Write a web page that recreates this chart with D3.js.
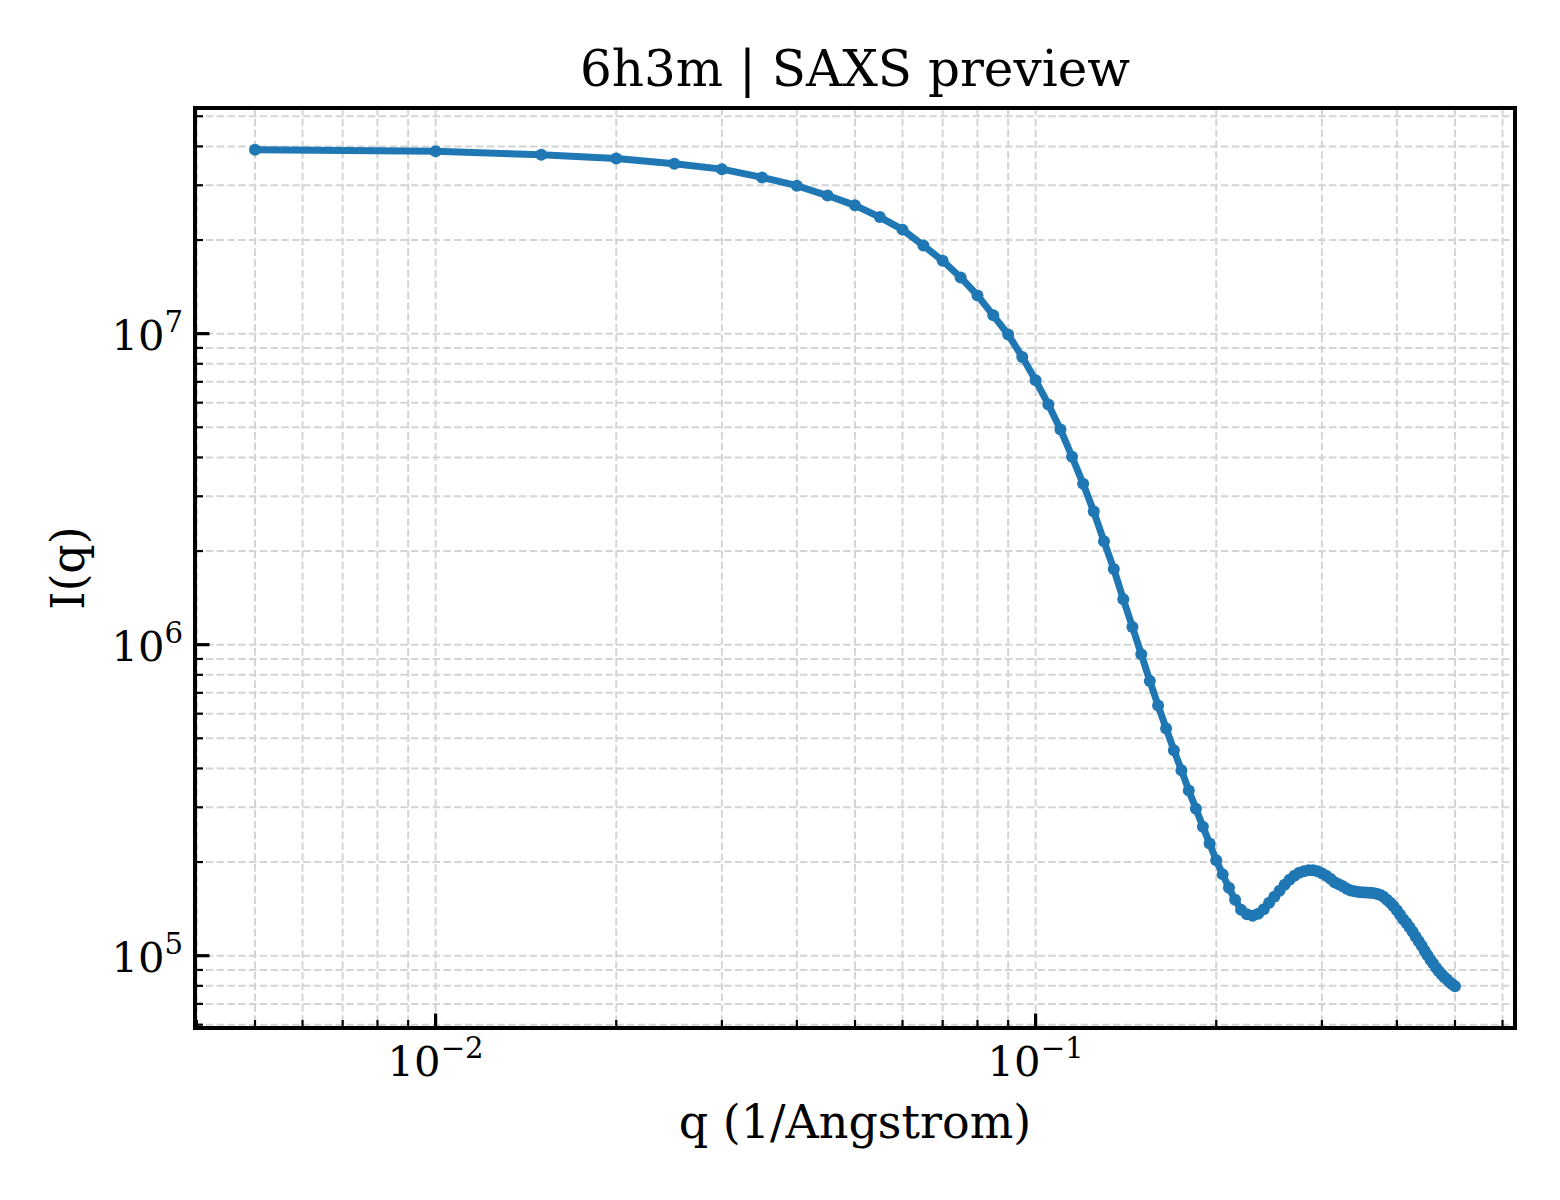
<!DOCTYPE html>
<html>
<head>
<meta charset="utf-8">
<script src="https://cdn.jsdelivr.net/npm/d3@7"></script>
<style>
  body { margin: 0; background: #fff; }
  svg text { font-family: "DejaVu Serif", serif; fill: #000; }
</style>
</head>
<body>
<svg id="chart"></svg>
<script>
// q values (1/Angstrom), one point every 0.005
var qValues = [
  0.005, 0.010, 0.015, 0.020, 0.025, 0.030, 0.035, 0.040, 0.045, 0.050,
  0.055, 0.060, 0.065, 0.070, 0.075, 0.080, 0.085, 0.090, 0.095, 0.100,
  0.105, 0.110, 0.115, 0.120, 0.125, 0.130, 0.135, 0.140, 0.145, 0.150,
  0.155, 0.160, 0.165, 0.170, 0.175, 0.180, 0.185, 0.190, 0.195, 0.200,
  0.205, 0.210, 0.215, 0.220, 0.225, 0.230, 0.235, 0.240, 0.245, 0.250,
  0.255, 0.260, 0.265, 0.270, 0.275, 0.280, 0.285, 0.290, 0.295, 0.300,
  0.305, 0.310, 0.315, 0.320, 0.325, 0.330, 0.335, 0.340, 0.345, 0.350,
  0.355, 0.360, 0.365, 0.370, 0.375, 0.380, 0.385, 0.390, 0.395, 0.400,
  0.405, 0.410, 0.415, 0.420, 0.425, 0.430, 0.435, 0.440, 0.445, 0.450,
  0.455, 0.460, 0.465, 0.470, 0.475, 0.480, 0.485, 0.490, 0.495, 0.500
]

// intensity
var intensity = [
  3.90e7, 3.86e7, 3.76e7, 3.66e7, 3.52e7, 3.38e7, 3.18e7, 2.99e7, 2.78e7, 2.585e7,
  2.37e7, 2.16e7, 1.92e7, 1.715e7, 1.516e7, 1.327e7, 1.145e7, 9.93e6, 8.42e6, 7.08e6,
  5.92e6, 4.92e6, 4.02e6, 3.29e6, 2.68e6, 2.15e6, 1.75e6, 1.40e6, 1.14e6, 9.32e5,
  7.64e5, 6.38e5, 5.38e5, 4.58e5, 3.95e5, 3.40e5, 2.97e5, 2.60e5, 2.295e5, 2.026e5,
  1.826e5, 1.653e5, 1.513e5, 1.405e5, 1.359e5, 1.344e5, 1.364e5, 1.410e5, 1.480e5, 1.547e5,
  1.617e5, 1.690e5, 1.754e5, 1.806e5, 1.847e5, 1.870e5, 1.884e5, 1.882e5, 1.870e5, 1.840e5,
  1.806e5, 1.767e5, 1.722e5, 1.696e5, 1.671e5, 1.641e5, 1.619e5, 1.611e5, 1.602e5, 1.600e5,
  1.597e5, 1.595e5, 1.590e5, 1.581e5, 1.569e5, 1.547e5, 1.513e5, 1.480e5, 1.442e5, 1.400e5,
  1.354e5, 1.310e5, 1.274e5, 1.235e5, 1.194e5, 1.151e5, 1.113e5, 1.077e5, 1.038e5, 1.004e5,
  9.71e4, 9.43e4, 9.15e4, 8.92e4, 8.72e4, 8.53e4, 8.38e4, 8.22e4, 8.10e4, 7.98e4
]

// major tick exponents
var xTickExp = [-2, -1]
var yTickExp = [5, 6, 7]

var titleText = '6h3m | SAXS preview'
var xLabel = 'q (1/Angstrom)'
var yLabel = 'I(q)'

var width = 1560
var height = 1200
var margin = { top: 108, right: 45, bottom: 172, left: 195 }
var innerW = width - margin.left - margin.right
var innerH = height - margin.top - margin.bottom
var lineColor = '#1f77b4'

var data = qValues.map(function (q, i) { return { q: q, I: intensity[i] } })

// log domain with 5% padding, like matplotlib autoscale
function padLog(ext) {
  var a = Math.log10(ext[0]), b = Math.log10(ext[1])
  var p = (b - a) * 0.05
  return [Math.pow(10, a - p), Math.pow(10, b + p)]
}

var x = d3.scaleLog()
  .domain(padLog(d3.extent(qValues)))
  .range([0, innerW])

var y = d3.scaleLog()
  .domain(padLog(d3.extent(intensity)))
  .range([innerH, 0])

// all 1..9 x 10^k ticks inside the domain
function logTicks(scale) {
  var d = scale.domain()
  var out = []
  for (var e = Math.floor(Math.log10(d[0])); e <= Math.ceil(Math.log10(d[1])); e++) {
    for (var m = 1; m < 10; m++) {
      var v = m * Math.pow(10, e)
      if (v >= d[0] && v <= d[1]) out.push({ v: v, major: m === 1 })
    }
  }
  return out
}
var xTicks = logTicks(x)
var yTicks = logTicks(y)

var svg = d3.select('#chart')
  .attr('width', width)
  .attr('height', height)

var g = svg.append('g')
  .attr('transform', 'translate(' + margin.left + ',' + margin.top + ')')

// grid (major and minor, dashed)
var grid = g.append('g')
  .attr('stroke', '#d4d4d4')
  .attr('stroke-width', 2)
  .attr('stroke-dasharray', '7.5,3.3')

grid.selectAll('line.gx')
  .data(xTicks)
  .enter()
  .append('line')
  .attr('class', 'gx')
  .attr('x1', function (d) { return x(d.v) })
  .attr('x2', function (d) { return x(d.v) })
  .attr('y1', 0)
  .attr('y2', innerH)

grid.selectAll('line.gy')
  .data(yTicks)
  .enter()
  .append('line')
  .attr('class', 'gy')
  .attr('y1', function (d) { return y(d.v) })
  .attr('y2', function (d) { return y(d.v) })
  .attr('x1', 0)
  .attr('x2', innerW)

// the curve
var line = d3.line()
  .x(function (d) { return x(d.q) })
  .y(function (d) { return y(d.I) })

g.append('path')
  .datum(data)
  .attr('d', line)
  .attr('fill', 'none')
  .attr('stroke', lineColor)
  .attr('stroke-width', 7)
  .attr('stroke-linejoin', 'round')
  .attr('stroke-linecap', 'round')

g.selectAll('circle.pt')
  .data(data)
  .enter()
  .append('circle')
  .attr('class', 'pt')
  .attr('cx', function (d) { return x(d.q) })
  .attr('cy', function (d) { return y(d.I) })
  .attr('r', 6)
  .attr('fill', lineColor)

// ticks pointing inward, left and bottom only
g.selectAll('line.tx')
  .data(xTicks)
  .enter()
  .append('line')
  .attr('class', 'tx')
  .attr('x1', function (d) { return x(d.v) })
  .attr('x2', function (d) { return x(d.v) })
  .attr('y1', innerH)
  .attr('y2', function (d) { return innerH - (d.major ? 14.5 : 8) })
  .attr('stroke', '#000')
  .attr('stroke-width', function (d) { return d.major ? 3.2 : 2.2 })

g.selectAll('line.ty')
  .data(yTicks)
  .enter()
  .append('line')
  .attr('class', 'ty')
  .attr('y1', function (d) { return y(d.v) })
  .attr('y2', function (d) { return y(d.v) })
  .attr('x1', 0)
  .attr('x2', function (d) { return d.major ? 14.5 : 8 })
  .attr('stroke', '#000')
  .attr('stroke-width', function (d) { return d.major ? 3.2 : 2.2 })

// frame
g.append('rect')
  .attr('x', 0)
  .attr('y', 0)
  .attr('width', innerW)
  .attr('height', innerH)
  .attr('fill', 'none')
  .attr('stroke', '#000')
  .attr('stroke-width', 4)

// tick labels 10^k
function powLabel(sel, exp) {
  sel.append('tspan').text('10')
  sel.append('tspan')
    .attr('dy', '-0.62em')
    .attr('font-size', '0.7em')
    .text(exp < 0 ? '\u2212' + (-exp) : String(exp))
}

xTickExp.forEach(function (e) {
  var t = g.append('text')
    .attr('x', x(Math.pow(10, e)))
    .attr('y', innerH + 48)
    .attr('text-anchor', 'middle')
    .attr('font-size', 41.7)
  powLabel(t, e)
})

yTickExp.forEach(function (e) {
  var t = g.append('text')
    .attr('x', -12)
    .attr('y', y(Math.pow(10, e)) + 16)
    .attr('text-anchor', 'end')
    .attr('font-size', 41.7)
  powLabel(t, e)
})

// axis labels and title
g.append('text')
  .attr('x', innerW / 2)
  .attr('y', innerH + 110)
  .attr('text-anchor', 'middle')
  .attr('font-size', 46)
  .text(xLabel)

g.append('text')
  .attr('transform', 'translate(' + (-111) + ',' + (innerH / 2) + ') rotate(-90)')
  .attr('text-anchor', 'middle')
  .attr('font-size', 46)
  .text(yLabel)

g.append('text')
  .attr('x', innerW / 2)
  .attr('y', -22)
  .attr('text-anchor', 'middle')
  .attr('font-size', 50)
  .text(titleText)
</script>
</body>
</html>
